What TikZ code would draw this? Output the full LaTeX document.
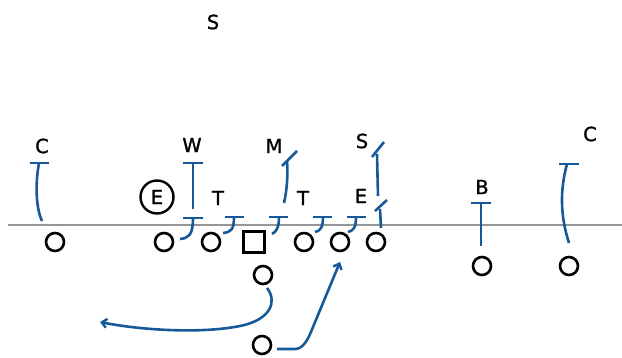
\documentclass[tikz,border=0pt]{standalone}
\usepackage{fontspec}
\newfontfamily\lblfont{DejaVu Sans}[FakeBold=1.2]
\usetikzlibrary{arrows.meta}
\definecolor{route}{RGB}{22,88,152}
\definecolor{los}{RGB}{150,150,150}
\tikzset{
  off/.style={circle,draw=black,line width=2.6pt,minimum size=18pt,inner sep=0pt},
  ctr/.style={rectangle,draw=black,line width=3pt,minimum size=21pt,inner sep=0pt},
  lbl/.style={font=\lblfont\fontsize{19.5}{20}\selectfont,inner sep=0pt,text=black},
  rt/.style={draw=route,line width=2.6pt},
  arr/.style={rt,-{Straight Barb[length=5pt,width=9pt,line width=2.4pt]}},
}
\begin{document}
\begin{tikzpicture}[x=1pt,y=-1pt]
\useasboundingbox (0,0) rectangle (622,358);
% line of scrimmage
\draw[los,line width=2.6pt] (8,225) -- (622,225);
% offense
\node[off] (o1) at (55,242) {};
\node[off] (o2) at (164,242) {};
\node[off] (o3) at (211,242) {};
\node[ctr] (c) at (254,242) {};
\node[off] (o4) at (304,242) {};
\node[off] (o5) at (340,242) {};
\node[off] (o6) at (376,242) {};
\node[off] (qb) at (263,275) {};
\node[off] (rb) at (262,345) {};
\node[off] (b1) at (482,266) {};
\node[off] (b2) at (569,266) {};
% defense labels
\node[lbl] (sT) at (213,22) {S};
\node[lbl] (cL) at (42,146) {C};
\node[lbl] (w) at (192,145) {W};
\node[lbl] (m) at (274,146) {M};
\node[lbl] (sR) at (362,141) {S};
\node[lbl] (t1) at (218,198) {T};
\node[lbl] (t2) at (303,198) {T};
\node[lbl] (e) at (361,196) {E};
\node[lbl] (bb) at (482,187) {B};
\node[lbl] (cR) at (590,134) {C};
\node[lbl,circle,draw=black,line width=2.4pt,minimum size=33pt] (eC) at (157,197) {E};
% C left
\draw[rt] (30,163) -- (49,163);
\draw[rt] (39,163) .. controls (35,185) and (36,208) .. (42,221);
% W
\draw[rt] (183,163) -- (203,163);
\draw[rt] (193,163) -- (193,209);
% line blocks
\draw[rt] (183,218) -- (203,218);
\draw[rt] (193,218) .. controls (193,236) and (188,238) .. (180,239);
\draw[rt] (225,217) -- (244,217);
\draw[rt] (234,217) .. controls (234,230) and (231,232) .. (223,233);
\draw[rt] (269,217) -- (288,217);
\draw[rt] (279,217) .. controls (279,228) and (276,232) .. (272,234);
\draw[rt] (313,217) -- (332,217);
\draw[rt] (323,217) .. controls (323,228) and (320,231) .. (315,232);
\draw[rt] (347,217) -- (366,217);
\draw[rt] (356,217) .. controls (356,228) and (353,231) .. (348,232);
% small rush near E
\draw[rt] (381,228) -- (380,209);
\draw[rt] (375,211) -- (387,200);
% M route
\draw[rt] (284,203) .. controls (287,190) and (288,175) .. (287,161);
\draw[rt] (282,166) -- (297,151);
% S route
\draw[rt] (378,196) -- (377,154);
\draw[rt] (372,157) -- (384,142);
% B
\draw[rt] (471,203) -- (491,203);
\draw[rt] (481,203) -- (481,246);
% C right
\draw[rt] (559,164) -- (579,164);
\draw[rt] (567,164) .. controls (560,190) and (560,215) .. (569,243);
% QB route
\draw[arr] (267,288) .. controls (278,302) and (270,320) .. (240,326)
  .. controls (200,334) and (140,330) .. (100,322);
% RB route
\draw[arr] (277,349) -- (295,349) .. controls (303,349) and (308,340) .. (313,327) -- (340,262);
\end{tikzpicture}
\end{document}
